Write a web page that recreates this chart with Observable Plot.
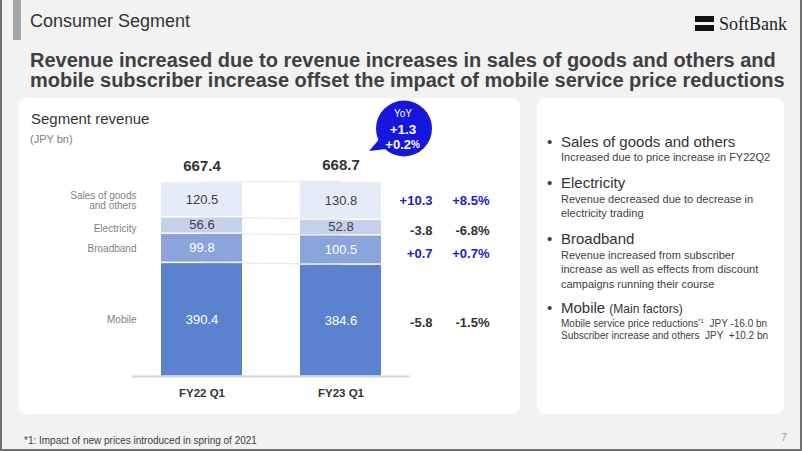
<!DOCTYPE html>
<html>
<head>
<meta charset="utf-8">
<script src="https://cdn.jsdelivr.net/npm/d3@7"></script>
<script src="https://cdn.jsdelivr.net/npm/@observablehq/plot@0.6"></script>
<style>
html,body{margin:0;padding:0;background:#f2f2f2;}
body{width:802px;height:451px;overflow:hidden;font-family:"Liberation Sans",Arial,sans-serif;}
#slide{position:relative;width:802px;height:451px;background:#f2f2f2;overflow:hidden;}
.abs{position:absolute;white-space:nowrap;}
.frame{position:absolute;left:0;top:0;width:802px;height:451px;box-sizing:border-box;border-left:2px solid #707070;border-right:2px solid #707070;border-bottom:2px solid #707070;pointer-events:none;}
.panel{position:absolute;background:#fff;border-radius:8px;}
.b{position:absolute;left:547px;font-size:15px;line-height:16px;color:#404040;}
.h{position:absolute;left:561px;font-size:15px;line-height:16px;color:#333;white-space:nowrap;}
.s{position:absolute;left:561px;font-size:11px;line-height:14px;color:#404040;white-space:nowrap;}
.s10{position:absolute;left:561px;font-size:10px;line-height:12px;color:#404040;white-space:nowrap;}
.sup{font-size:6px;position:relative;top:-4px;}
#chart{position:absolute;left:0;top:95px;}
</style>
</head>
<body>
<div id="slide">
  <div class="abs" style="left:13px;top:0;width:8px;height:40px;background:#a6a6a6;"></div>
  <div class="abs" style="left:30px;top:11px;font-size:18px;line-height:20px;color:#333;">Consumer Segment</div>
  <div class="abs" style="left:695px;top:16px;width:19px;height:6px;background:#111;"></div>
  <div class="abs" style="left:695px;top:25px;width:19px;height:6px;background:#111;"></div>
  <div class="abs" style="left:719px;top:15px;font-family:'Liberation Serif','Times New Roman',serif;font-size:18px;line-height:18px;color:#222;">SoftBank</div>
  <div class="abs" style="left:30px;top:51px;font-size:20px;line-height:18px;font-weight:bold;color:#404040;">Revenue increased due to revenue increases in sales of goods and others and</div>
  <div class="abs" style="left:30px;top:71px;font-size:20px;line-height:18px;font-weight:bold;color:#404040;">mobile subscriber increase offset the impact of mobile service price reductions</div>

  <div class="panel" style="left:19px;top:98px;width:501px;height:316px;"></div>
  <div class="panel" style="left:537px;top:98px;width:247px;height:316px;"></div>

  <div class="abs" style="left:31px;top:110px;font-size:15px;line-height:18px;color:#333;">Segment revenue</div>
  <div class="abs" style="left:30px;top:132px;font-size:11px;line-height:14px;color:#808080;">(JPY bn)</div>

  <div class="b" style="top:134px;">•</div>
  <div class="h" style="top:134px;">Sales of goods and others</div>
  <div class="s" style="top:150px;">Increased due to price increase in FY22Q2</div>
  <div class="b" style="top:175px;">•</div>
  <div class="h" style="top:175px;">Electricity</div>
  <div class="s" style="top:192px;">Revenue decreased due to decrease in</div>
  <div class="s" style="top:206px;">electricity trading</div>
  <div class="b" style="top:231px;">•</div>
  <div class="h" style="top:231px;">Broadband</div>
  <div class="s" style="top:248px;">Revenue increased from subscriber</div>
  <div class="s" style="top:262px;">increase as well as effects from discount</div>
  <div class="s" style="top:277px;">campaigns running their course</div>
  <div class="b" style="top:300px;">•</div>
  <div class="h" style="top:300px;">Mobile <span style="font-size:12px;">(Main factors)</span></div>
  <div class="s10" style="top:318px;">Mobile service price reductions<span class="sup">*1</span>&nbsp; JPY -16.0 bn</div>
  <div class="s10" style="top:330px;">Subscriber increase and others&nbsp; JPY&nbsp; +10.2 bn</div>

  <div class="abs" style="left:24px;top:434px;font-size:10px;line-height:14px;color:#404040;">*1: Impact of new prices introduced in spring of 2021</div>
  <div class="abs" style="left:781px;top:430px;font-size:11px;line-height:14px;color:#a0a0a0;">7</div>

  <div id="chart"></div>
  <div class="frame"></div>
</div>
<script>
// ---- Data ----
const periods = ["FY22 Q1", "FY23 Q1"];
const segments = ["Mobile", "Broadband", "Electricity", "Sales of goods and others"];
const segmentLabels = ["Mobile", "Broadband", "Electricity", "Sales of goods\nand others"];
const fy22Values = [390.4, 99.8, 56.6, 120.5];
const fy23Values = [384.6, 100.5, 52.8, 130.8];
const totals = [667.4, 668.7];
const yoyChange = [-5.8, 0.7, -3.8, 10.3];
const yoyPercent = [-1.5, 0.7, -6.8, 8.5];
const totalYoyChange = 1.3;
const totalYoyPercent = 0.2;

// ---- Styles ----
const segmentColors = ["#5b82cf", "#8ba5dc", "#c5d1ec", "#e5ebf7"];
const darkSegments = ["Mobile", "Broadband"];
const labelNudge = [0, 1, 3, 1];     // vertical pixel nudges for left labels
const changeNudge = [2, 4, 4, 0];    // vertical pixel nudges for YoY columns
const blue = "#1a1ad6";
const bubbleBlue = "#1616dc";

const valuesByPeriod = [fy22Values, fy23Values];
const rows = [];
periods.forEach((p, pi) => {
  const cum = d3.cumsum(valuesByPeriod[pi]);
  segments.forEach((s, si) => rows.push({
    period: p, segment: s, idx: si, label: segmentLabels[si], value: valuesByPeriod[pi][si],
    mid: cum[si] - valuesByPeriod[pi][si] / 2,
    change: yoyChange[si], pct: yoyPercent[si]
  }));
});
const totalRows = periods.map((p, i) => ({period: p, total: totals[i], top: d3.sum(valuesByPeriod[i])}));
const cum22 = d3.cumsum(fy22Values), cum23 = d3.cumsum(fy23Values);
const connectors = segments.map((s, i) => ({a: cum22[i], b: cum23[i]}));
const fmtChange = v => (v > 0 ? "+" : "") + v.toFixed(1);
const fy22Rows = rows.filter(d => d.period === periods[0]);
const fy23Rows = rows.filter(d => d.period === periods[1]);
const bubble = [{abs: totalYoyChange, pct: totalYoyPercent}];

const leftLabelMarks = segments.map((s, si) =>
  Plot.text(fy22Rows.filter(d => d.idx === si), {x: "period", y: "mid", text: "label", textAnchor: "end",
    dx: -65.5, dy: labelNudge[si], fontSize: 10, lineHeight: 1.05, fill: "#7f7f7f"}));
const changeMarks = segments.flatMap((s, si) => {
  const data = fy23Rows.filter(d => d.idx === si);
  return [
    Plot.text(data, {x: "period", y: "mid", text: d => fmtChange(d.change),
      textAnchor: "end", dx: 91.5, dy: changeNudge[si], fontSize: 13, fontWeight: "bold",
      fill: d => d.change > 0 ? blue : "#333"}),
    Plot.text(data, {x: "period", y: "mid", text: d => fmtChange(d.pct) + "%",
      textAnchor: "end", dx: 148.5, dy: changeNudge[si], fontSize: 13, fontWeight: "bold",
      fill: d => d.pct > 0 ? blue : "#333"})
  ];
});

const chart = Plot.plot({
  width: 540,
  height: 315,
  marginLeft: 132,
  marginRight: 130,
  marginTop: 1,
  marginBottom: 34,
  x: {domain: periods, paddingInner: 0.417, paddingOuter: 0.2085, axis: null},
  y: {domain: [0, 960], axis: null},
  color: {domain: segments, range: segmentColors},
  style: {fontFamily: "'Liberation Sans', Arial, sans-serif", background: "transparent", overflow: "visible"},
  marks: [
    Plot.link(connectors, {x1: () => periods[0], x2: () => periods[1], y1: "a", y2: "b", stroke: "#e6e6e6", strokeWidth: 1}),
    Plot.barY(rows, {x: "period", y: "value", fill: "segment", insetTop: 1, insetBottom: 0.5}),
    Plot.ruleY([0], {stroke: "#d6d6d6", strokeWidth: 2}),
    Plot.text(rows, {x: "period", y: "mid", text: d => d.value.toFixed(1),
      fill: d => darkSegments.includes(d.segment) ? "white" : "#404040", fontSize: 13}),
    Plot.text(totalRows, {x: "period", y: "top", text: d => d.total.toFixed(1), dy: -16,
      fontSize: 15, fontWeight: "bold", fill: "#333"}),
    ...leftLabelMarks,
    ...changeMarks,
    Plot.text(periods, {x: d => d, frameAnchor: "bottom", dy: 20, text: d => d,
      fontSize: 11.5, fontWeight: "bold", fill: "#333"}),
    // YoY bubble
    Plot.vector(bubble, {x: () => periods[1], frameAnchor: "top", dx: 44, dy: 46, length: 18,
      rotate: 242, shape: "spike", r: 7, anchor: "start", fill: bubbleBlue, stroke: "none"}),
    Plot.dot(bubble, {x: () => periods[1], frameAnchor: "top", dx: 63, dy: 32, r: 28,
      fill: bubbleBlue, stroke: "none"}),
    Plot.text(bubble, {x: () => periods[1], frameAnchor: "top", dx: 62, dy: 13, text: () => "YoY",
      fontSize: 10, fill: "white"}),
    Plot.text(bubble, {x: () => periods[1], frameAnchor: "top", dx: 62, dy: 28, text: d => fmtChange(d.abs),
      fontSize: 13.5, fontWeight: "bold", fill: "white"}),
    Plot.text(bubble, {x: () => periods[1], frameAnchor: "top", dx: 70, dy: 43, text: d => fmtChange(d.pct),
      textAnchor: "end", fontSize: 13, fontWeight: "bold", fill: "white"}),
    Plot.text(bubble, {x: () => periods[1], frameAnchor: "top", dx: 70, dy: 44, text: () => "%",
      textAnchor: "start", fontSize: 10, fontWeight: "bold", fill: "white"})
  ]
});
document.getElementById("chart").appendChild(chart);
</script>
</body>
</html>
